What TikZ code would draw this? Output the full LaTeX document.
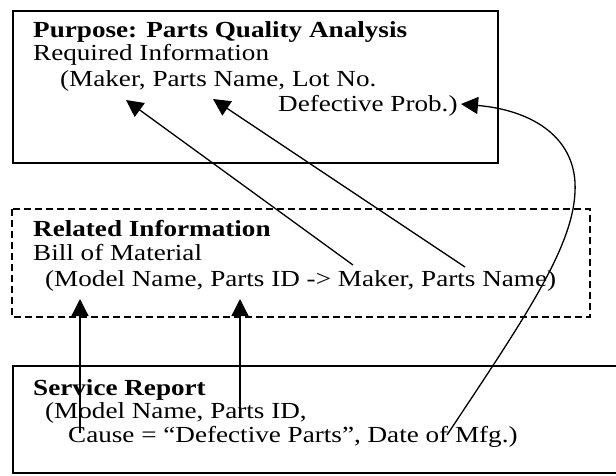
\documentclass[tikz,border=0pt]{standalone}
\usepackage{fontspec}
\setmainfont{Liberation Serif}[FakeStretch=1.18]
\usetikzlibrary{arrows.meta}
\begin{document}
\begin{tikzpicture}[x=1pt,y=-1pt,
  txt/.style={anchor=base west,inner sep=0pt,font=\fontsize{23}{27}\selectfont},
  btxt/.style={txt,font=\fontsize{23}{27}\selectfont\bfseries},
  boxline/.style={line width=1.4pt},
  dashbox/.style={line width=1.3pt,dash pattern=on 7pt off 4pt},
  conn/.style={line width=1.3pt,-{Triangle[length=17pt,width=17pt]}}]
\useasboundingbox (0,0) rectangle (616,475);
% boxes
\draw[boxline] (13,11) rectangle (498,163);
\draw[dashbox] (12,209) rectangle (590,317);
\draw[boxline] (616,366) -- (13,366) -- (13,473) -- (616,473);
% top box text
\node[btxt] (p1) at (33,37) {Purpose: Parts Quality Analysis};
\node[txt] (p2) at (33,60) {Required Information};
\node[txt] (p3) at (60,86) {(Maker, Parts Name, Lot No.};
\node[txt] (p4) at (278,111) {Defective Prob.)};
% related info
\node[btxt] (r1) at (33,236) {Related Information};
\node[txt] (r2) at (33,260) {Bill of Material};
\node[txt] (r3) at (45,286) {(Model Name, Parts ID -> Maker, Parts Name)};
% service report
\node[btxt] (s1) at (33,395) {Service Report};
\node[txt] (s2) at (45,418) {(Model Name, Parts ID,};
\node[txt] (s3) at (68,442) {Cause = “Defective Parts”, Date of Mfg.)};
% connector end points
\coordinate (aMaker) at (126,100);
\coordinate (aName) at (213,99);
\coordinate (bMaker) at (353,265);
\coordinate (bName) at (465,267);
\coordinate (aProb) at (461,104);
\coordinate (cModel) at (80,299);
\coordinate (cParts) at (240,299);
\coordinate (sModel) at (80,433);
\coordinate (sParts) at (240,418);
\coordinate (sMfg) at (447,435);
\coordinate (bend) at (575,182);
% connectors
\draw[conn] (bMaker) -- (aMaker);
\draw[conn] (bName) -- (aName);
\draw[conn] (sModel) -- (cModel);
\draw[conn] (sParts) -- (cParts);
\draw[conn] (sMfg) .. controls (530,310) and (578,240) .. (bend)
  .. controls (572,135) and (530,110) .. (aProb);
\end{tikzpicture}
\end{document}
